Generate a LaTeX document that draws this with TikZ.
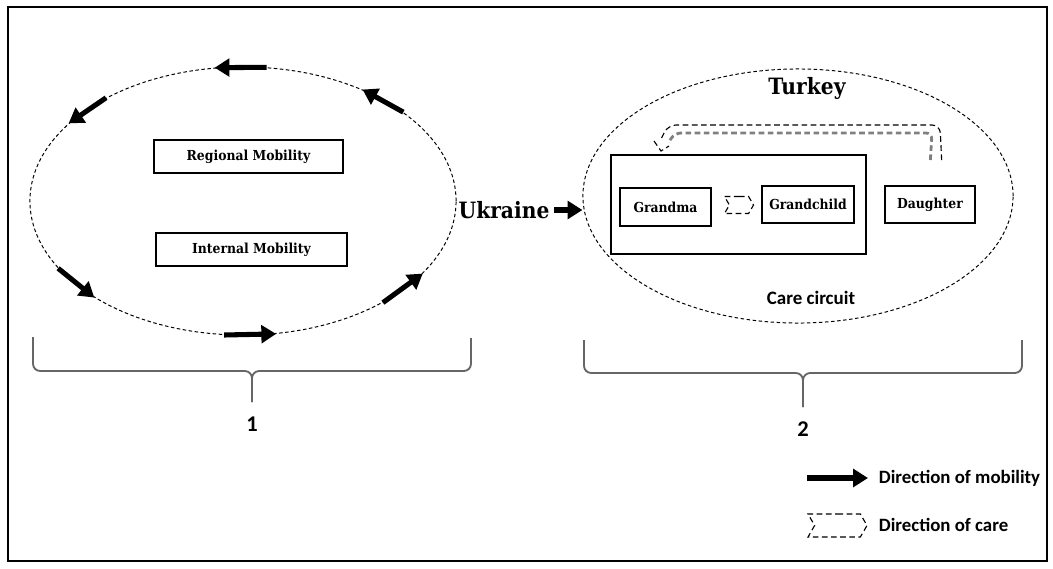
\documentclass[tikz,border=0pt]{standalone}
\usepackage{fontspec}
\setmainfont{Carlito}
\newfontfamily\slabfont{DejaVu Serif Condensed}
\usetikzlibrary{positioning, arrows.meta, shapes.geometric, shapes.symbols}

\tikzset{
  ring/.style={ellipse, draw, dash pattern=on 2.5pt off 1.8pt, line width=0.7pt, inner sep=0pt},
  mobbox/.style={draw, line width=0.8pt, inner sep=0pt, font=\slabfont\bfseries\fontsize{9.8}{11}\selectfont},
  personbox/.style={draw, line width=1.3pt, inner sep=0pt, font=\slabfont\bfseries\fontsize{9.8}{11}\selectfont},
  move/.style={line width=3.6pt, -{Triangle[length=10.5pt,width=12.5pt]}},
  carechevron/.style={signal, signal from=west, signal to=east, signal pointer angle=120,
    draw, dash pattern=on 4pt off 2.5pt, line width=0.8pt, inner sep=0pt},
  careout/.style={draw, dash pattern=on 4pt off 2.5pt, line width=0.8pt},
  carein/.style={draw=black!50, dash pattern=on 4pt off 2.5pt, line width=2pt},
  brace/.style={draw=black!60, line width=1.3pt, rounded corners=0.18cm},
  label/.style={font=\bfseries\fontsize{13.4}{16}\selectfont},
  number/.style={font=\bfseries\fontsize{16}{18}\selectfont},
  place/.style={font=\slabfont\bfseries\fontsize{16}{19}\selectfont},
}

\begin{document}
\begin{tikzpicture}[x=0.025cm, y=-0.025cm]
  \useasboundingbox (0,0) rectangle (1053,568);
  \draw[line width=1pt] (8,7) rectangle (1047,561);

  % part 1: Ukraine
  \node[ring, minimum width=10.65cm, minimum height=6.7cm] (home) at (243,201) {};
  \node[mobbox, minimum width=4.725cm, minimum height=0.825cm] (regional) at (248.5,156.5) {Regional Mobility};
  \node[mobbox, minimum width=4.775cm, minimum height=0.825cm] (internal) at (251.5,249.5) {Internal Mobility};
  \foreach \from/\to in {80/102, 29/43, 143/156, 200/213, 262/284, 324/338}
    \draw[move] (home.\from) -- (home.\to);

  \node[place] (ukraine) at (504,210) {Ukraine};

  % part 2: Turkey
  \node[ring, minimum width=10.75cm, minimum height=6.35cm] (abroad) at (798,196) {};
  \node[place] (turkey) at (807,88) {Turkey};
  \draw[move] (ukraine.east) -- (ukraine.east -| abroad.west);

  \node[draw, line width=1.4pt, minimum width=6.375cm, minimum height=2.475cm] (circuit) at (738.5,204.5) {};
  \node[personbox, minimum width=2.275cm, minimum height=0.95cm] (grandma) at (665.5,207) {Grandma};
  \node[personbox, minimum width=2.3cm, minimum height=0.925cm] (grandchild) at (808,204.5) {Grandchild};
  \node[personbox, minimum width=2.25cm, minimum height=0.925cm] (daughter) at (930,204.5) {Daughter};
  \node[carechevron, minimum width=0.725cm, minimum height=0.425cm] (care) at (739,205) {};
  \node[font=\bfseries\fontsize{13.5}{15}\selectfont] (circuitlabel) at (811,298) {Care circuit};

  % care from daughter back to grandma
  \coordinate (carestart) at (936,160);
  \coordinate (careend) at (661,151);
  \draw[careout, rounded corners=0.2cm] ([xshift=4]carestart) -- (940,125) -- (668,125) -- (660,141);
  \draw[carein, rounded corners=0.15cm] ([xshift=-4]carestart) -- (932,133) -- (675,133) -- (668,143);
  \draw[careout] (654,141) -- (careend) -- (669,146);

  % braces
  \draw[brace] (33,337) -- (33,371) -- (252,371) -- (252,402);
  \draw[brace] (471,338) -- (471,371) -- (252,371) -- (252,402);
  \coordinate (tip1) at (252,402);
  \node[number, below=0.25cm of tip1] (one) {1};
  \draw[brace] (584,340) -- (584,373) -- (803,373) -- (803,407);
  \draw[brace] (1022,340) -- (1022,373) -- (803,373) -- (803,407);
  \coordinate (tip2) at (803,407);
  \node[number, below=0.25cm of tip2] (two) {2};

  % legend
  \coordinate (keystart) at (807,478);
  \coordinate (keyend) at (868,478);
  \draw[move] (keystart) -- (keyend);
  \node[label, anchor=west] (keymove) at (874,478) {Direction of mobility};
  \node[carechevron, minimum width=1.475cm, minimum height=0.575cm] (keycare) at (837.5,525.5) {};
  \node[label, anchor=west] (keycaretext) at (874,525) {Direction of care};
\end{tikzpicture}
\end{document}
